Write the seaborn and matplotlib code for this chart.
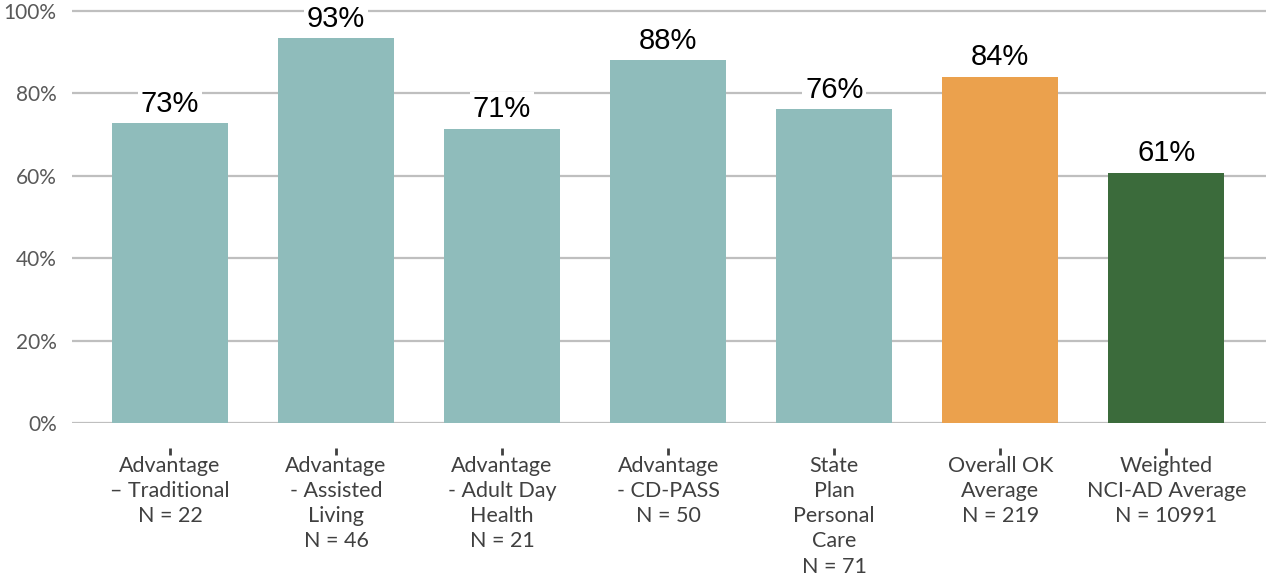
import matplotlib
matplotlib.use("Agg")
import matplotlib.pyplot as plt
import seaborn as sns
import pandas as pd

categories = [
    "Advantage\n– Traditional\nN = 22",
    "Advantage\n- Assisted\nLiving\nN = 46",
    "Advantage\n- Adult Day\nHealth\nN = 21",
    "Advantage\n- CD-PASS\nN = 50",
    "State\nPlan\nPersonal\nCare\nN = 71",
    "Overall OK\nAverage\nN = 219",
    "Weighted\nNCI-AD Average\nN = 10991",
]
values = [72.7, 93.4, 71.4, 88.0, 76.1, 84.0, 60.7]
bar_colors = ["#8FBCBB", "#8FBCBB", "#8FBCBB", "#8FBCBB", "#8FBCBB", "#EBA14D", "#3B6B3B"]
yticks = [0, 20, 40, 60, 80, 100]
ytick_labels = ["0%", "20%", "40%", "60%", "80%", "100%"]

sns.set_theme(style="white")
plt.rcParams['font.family'] = ['Lato', 'DejaVu Sans']

W, H = 1266, 582
fig = plt.figure(figsize=(W / 100, H / 100), dpi=100)
y0 = 423
ax_h = 412 * 1.005
ax = fig.add_axes([72 / W, (H - y0) / H, (W - 72) / W, ax_h / H])

df = pd.DataFrame({"cat": categories, "val": values})
sns.barplot(data=df, x="cat", y="val", hue="cat", palette=bar_colors, legend=False,
            width=0.7, saturation=1, linewidth=0, ax=ax)

ax.set_xlim(-0.59, 6.6)
ax.set_ylim(0, 100.5)
ax.set_yticks(yticks)
ax.set_yticklabels(ytick_labels)
ax.set_xlabel("")
ax.set_ylabel("")
ax.set_axisbelow(True)
ax.yaxis.grid(True, color="#BFBFBF", linewidth=1.6)
ax.xaxis.grid(False)
for s in ["top", "right", "left"]:
    ax.spines[s].set_visible(False)
ax.spines["bottom"].set_position(("outward", 18))
ax.spines["bottom"].set_color("none")

ax.tick_params(axis="y", left=False, length=0, pad=11, labelsize=15, labelcolor="#595959")
ax.tick_params(axis="x", bottom=True, length=5, width=2, color="#404040", direction="out",
               pad=0.5, labelsize=15.5, labelcolor="#404040")
for lbl in ax.get_xticklabels():
    lbl.set_linespacing(1.33)

for i, v in enumerate(values):
    ax.annotate(f"{round(v)}%", xy=(i, v), xytext=(0, 4), textcoords="offset points",
                ha="center", va="bottom", fontsize=21, family="Liberation Sans", color="black",
                bbox=dict(facecolor="white", edgecolor="none", pad=2))

fig.savefig("out.png", dpi=100)
